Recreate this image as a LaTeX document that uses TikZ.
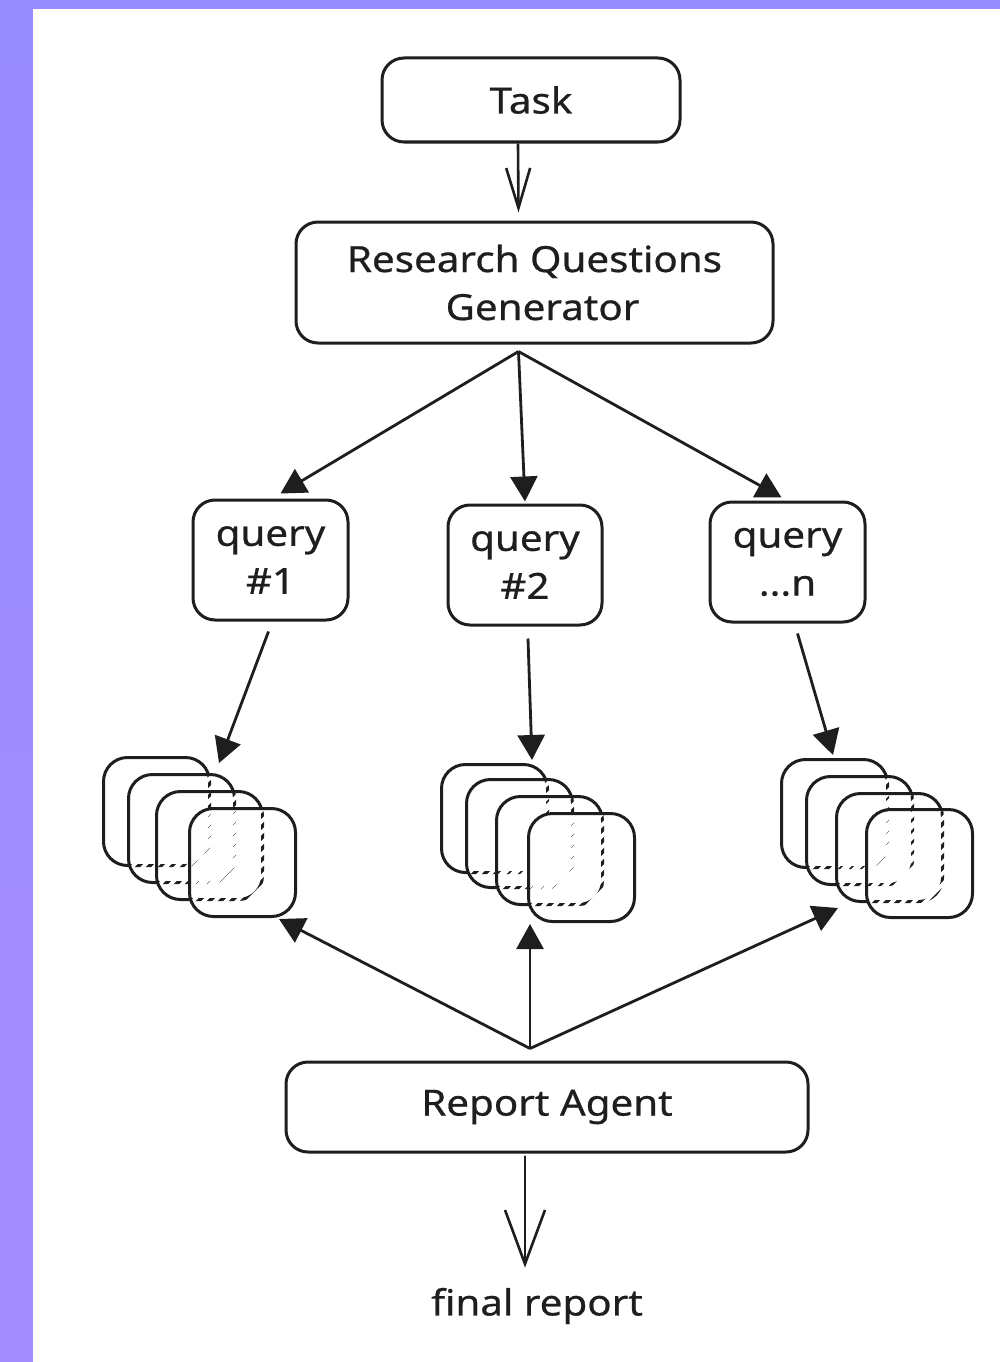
\documentclass[tikz,border=0pt]{standalone}
\usepackage{fontspec}
\setmainfont{Noto Sans}[FakeStretch=1.12,FakeBold=0.6]
\usetikzlibrary{arrows.meta,calc}
\definecolor{ink}{HTML}{1E1E1E}
\definecolor{frametop}{HTML}{998CFF}
\definecolor{framebot}{HTML}{A38CFF}
\newcommand\sketchfont{\fontsize{36}{48}\selectfont}
\begin{document}
\begin{tikzpicture}[x=1pt,y=-1pt,
  box/.style={draw=ink, line width=3pt, rounded corners=22pt, fill=white,
    align=center, inner sep=0pt, font=\sketchfont, text=ink},
  sq/.style={draw=ink, line width=3pt, rounded corners=24pt, anchor=north west,
    minimum width=106pt, minimum height=108pt, inner sep=0pt},
  hatched/.style={path picture={
    \foreach \k in {-176,-165,...,176}{
      \draw[white, line width=3.6pt]
        ($(path picture bounding box.center)+(\k-90,90)$) -- ++(180,-180);}}},
  farrow/.style={draw=ink, line width=2.8pt, -{Triangle[length=25pt,width=27pt]}},
  oarrow/.style={draw=ink, line width=2.6pt, line cap=round,
    -{Straight Barb[length=40pt,width=24pt,line width=2.6pt]}},
  oarrowbig/.style={draw=ink, line width=2.6pt, line cap=round,
    -{Straight Barb[length=54pt,width=40pt,line width=2.6pt]}}]

% frame and page
\useasboundingbox (0,0) rectangle (1000,1362);
\shade[top color=frametop, bottom color=framebot] (0,0) rectangle (1000,1362);
\fill[white] (33,9) rectangle (1000,1362);

% main boxes
\node[box, minimum width=298pt, minimum height=84pt] (task) at (531,100) {Task};
\node[box, minimum width=477pt, minimum height=121pt] (rqg) at (534.5,282.5)
  {Research Questions\\\hspace*{16pt}Generator};
\node[box, minimum width=155pt, minimum height=120pt] (q1) at (270.5,560) {query\\\#1};
\node[box, minimum width=154pt, minimum height=120pt] (q2) at (525,565) {query\\\#2};
\node[box, minimum width=155pt, minimum height=120pt] (qn) at (787.5,562) {query\\...n};
\node[box, minimum width=522pt, minimum height=90pt] (ra) at (547,1107) {Report Agent};
\node[font=\sketchfont, text=ink, inner sep=0pt] (final) at (537,1306) {final report};

% stacks of result cards
\node[sq] (a1) at (102,756) {};
\node[sq, hatched] (a2) at (127,773) {};
\node[sq, hatched] (a3) at (155,790) {};
\node[sq, hatched] (a4) at (188,807) {};

\node[sq] (b1) at (440,763) {};
\node[sq, hatched] (b2) at (465,778) {};
\node[sq, hatched] (b3) at (495,795) {};
\node[sq, hatched] (b4) at (527,812) {};

\node[sq] (c1) at (780,758) {};
\node[sq, hatched] (c2) at (805,775) {};
\node[sq, hatched] (c3) at (835,792) {};
\node[sq, hatched] (c4) at (865,808) {};

% connectors
\coordinate (fork) at ($(rqg.south)+(-16,7)$);
\coordinate (join) at ($(ra.north)+(-17,-12)$);

\draw[oarrow] ($(task.south)+(-13,1)$) -- ($(rqg.north)+(-16,-8)$);

\draw[farrow] (fork) -- ($(q1.north)+(10,-5)$);
\draw[farrow] (fork) -- ($(q2.north)+(0,-2)$);
\draw[farrow] (fork) -- ($(qn.north)+(-6,-3)$);

\draw[farrow] ($(q1.south)+(-2,10)$) -- ($(a1.north east)+(8,7)$);
\draw[farrow] ($(q2.south)+(3,12)$) -- ($(b1.north east)+(-17,-3)$);
\draw[farrow] ($(qn.south)+(10,10)$) -- ($(c1.north east)+(-56,-3)$);

\draw[farrow] (join) -- ($(a4.south east)+(-18,1)$);
\draw[farrow] (join) -- ($(b4.south west)+(3,1)$);
\draw[farrow] (join) -- ($(c3.south west)+(3,5)$);

\draw[oarrowbig] ($(ra.south)+(-22,3)$) -- ($(final.north)+(-12,-20)$);
\end{tikzpicture}
\end{document}
